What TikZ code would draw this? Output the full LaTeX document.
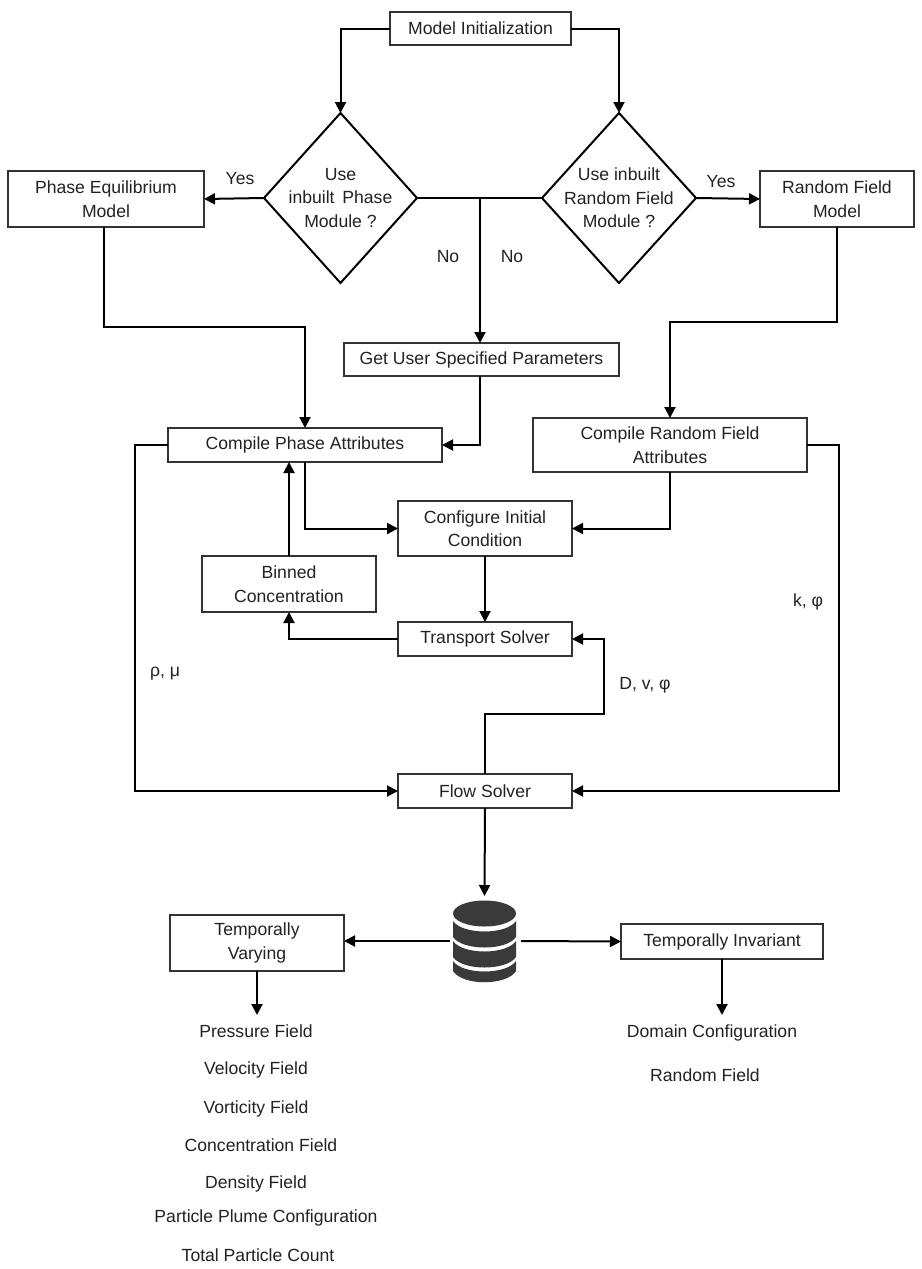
\documentclass[tikz,border=0pt]{standalone}
\usepackage{fontspec}
\setmainfont{Liberation Sans}
\usetikzlibrary{shapes.geometric,arrows.meta}
\definecolor{ink}{HTML}{222222}
\definecolor{dbc}{HTML}{3A3A3A}
\begin{document}
\begin{tikzpicture}[x=1pt,y=-1pt,
  every node/.style={font=\fontsize{17.6}{23.5}\selectfont,text=ink,align=center,inner sep=0pt,outer sep=0pt},
  pbox/.style={draw=black!80,line width=1.2pt,fill=white},
  dia/.style={diamond,draw=black,line width=2pt,aspect=0.9,fill=white},
  conn/.style={draw=black,line width=2pt,-{Triangle[length=11pt,width=11pt]}},
  plain/.style={draw=black,line width=2pt},
  dbband/.style={fill=dbc,draw=none}]
\useasboundingbox (0,0) rectangle (921,1269);
\fill[white] (0,0) rectangle (921,1269);

\node[pbox,minimum width=181pt,minimum height=33pt] (init) at (480.5,28.5) {Model Initialization};
\node[dia,minimum width=153pt,minimum height=170pt] (dl) at (340.5,198) {};
\node[dia,minimum width=154pt,minimum height=170pt] (dr) at (619,198) {};
\node (dlt) at (340.5,198) {Use\\inbuilt\, Phase\\Module ?};
\node (drt) at (619,198) {Use inbuilt\\Random Field\\Module ?};
\node[pbox,minimum width=196pt,minimum height=56pt] (pe) at (106,199) {Phase Equilibrium\\Model};
\node[pbox,minimum width=154pt,minimum height=56pt] (rf) at (837,199) {Random Field\\Model};
\node[pbox,minimum width=275pt,minimum height=33pt] (get) at (481.5,359.5) {Get User Specified Parameters};
\node[pbox,minimum width=274pt,minimum height=34pt] (cp) at (305,445) {Compile Phase Attributes};
\node[pbox,minimum width=274pt,minimum height=54pt] (crf) at (670,445) {Compile Random Field\\Attributes};
\node[pbox,minimum width=174pt,minimum height=55pt] (conf) at (485,528.5) {Configure Initial\\Condition};
\node[pbox,minimum width=174pt,minimum height=56pt] (bin) at (289,584) {Binned\\Concentration};
\node[pbox,minimum width=174pt,minimum height=34pt] (ts) at (485,639) {Transport Solver};
\node[pbox,minimum width=174pt,minimum height=34pt] (fs) at (485,791) {Flow Solver};
\node[pbox,minimum width=174pt,minimum height=56pt] (tv) at (257,943) {Temporally\\Varying};
\node[pbox,minimum width=202pt,minimum height=35pt] (ti) at (722,941.5) {Temporally Invariant};

% database icon
\coordinate (db) at (484.5,941);
\begin{scope}[shift={(db)}]
  \fill[dbband] (0,-27.5) ellipse [x radius=31.5, y radius=13];
  \fill[dbband] (-31.5,-20) .. controls (-22,-6) and (22,-6) .. (31.5,-20) -- (31.5,-4) .. controls (22,10) and (-22,10) .. (-31.5,-4) -- cycle;
  \fill[dbband] (-31.5,0) .. controls (-22,14) and (22,14) .. (31.5,0) -- (31.5,16) .. controls (22,30) and (-22,30) .. (-31.5,16) -- cycle;
  \fill[dbband] (-31.5,20) .. controls (-22,34) and (22,34) .. (31.5,20) -- (31.5,30) .. controls (22,45) and (-22,45) .. (-31.5,30) -- cycle;
\end{scope}
\coordinate (dbtop) at (484.5,896);
\coordinate (dbl) at (450,941);
\coordinate (dbr) at (521,941);

% text lists
\node (p1) at (256,1031) {Pressure Field};
\node (p2) at (256,1070) {Velocity Field};
\node (p3) at (256,1109) {Vorticity Field};
\node (p4) at (261,1145) {Concentration Field};
\node (p5) at (256,1184) {Density Field};
\node (p6) at (266,1218) {Particle Plume Configuration};
\node (p7) at (258,1255) {Total Particle Count};
\node (q1) at (712,1033) {Domain Configuration};
\node (q2) at (705,1075) {Random Field};

% labels
\node (yl) at (240,179) {Yes};
\node (yr) at (721,182) {Yes};
\node (nl) at (448,257) {No};
\node (nr) at (512,257) {No};
\node (rm) at (165,674) {ρ, μ};
\node (kp) at (808,602) {k, φ};
\node (dvp) at (645,685) {D, v, φ};

% connectors
\draw[conn] (init.west) -| (dl.north);
\draw[conn] (init.east) -| (dr.north);
\draw[conn] (dl.west) -- (pe.east);
\draw[conn] (dr.east) -- (rf.west);
\draw[plain] (dl.east) -- (dr.west);
\coordinate (jn) at ([xshift=-1.5pt]get.north |- dl.east);
\draw[conn] (jn) -- ([xshift=-1.5pt]get.north);
\coordinate (b1) at (0,327);
\draw[conn] ([xshift=-2pt]pe.south) -- ([xshift=-2pt]pe.south |- b1) -| (cp.north);
\coordinate (b2) at (0,322);
\draw[conn] (rf.south) -- (rf.south |- b2) -| (crf.north);
\draw[conn] ([xshift=-1.5pt]get.south) |- (cp.east);
\draw[conn] (crf.south) |- (conf.east);
\draw[conn] (cp.south) |- (conf.west);
\draw[conn] (conf.south) -- (ts.north);
\draw[conn] (ts.west) -| (bin.south);
\draw[conn] (bin.north) -- (bin.north |- cp.south);
\coordinate (l1) at (135,0);
\draw[conn] (cp.west) -- (l1 |- cp.west) |- (fs.west);
\coordinate (r1) at (839,0);
\draw[conn] (crf.east) -- (r1 |- crf.east) |- (fs.east);
\coordinate (u1) at (0,714);
\coordinate (u2) at (604,0);
\draw[conn] (fs.north) -- (fs.north |- u1) -- (u2 |- u1) |- (ts.east);
\draw[conn] (fs.south) -- (dbtop);
\draw[conn] (dbl) -- (dbl -| tv.east);
\draw[conn] (dbr) -- (ti.west);
\coordinate (v1) at (0,1015);
\draw[conn] (tv.south) -- (tv.south |- v1);
\draw[conn] (ti.south) -- (ti.south |- v1);
\end{tikzpicture}
\end{document}
